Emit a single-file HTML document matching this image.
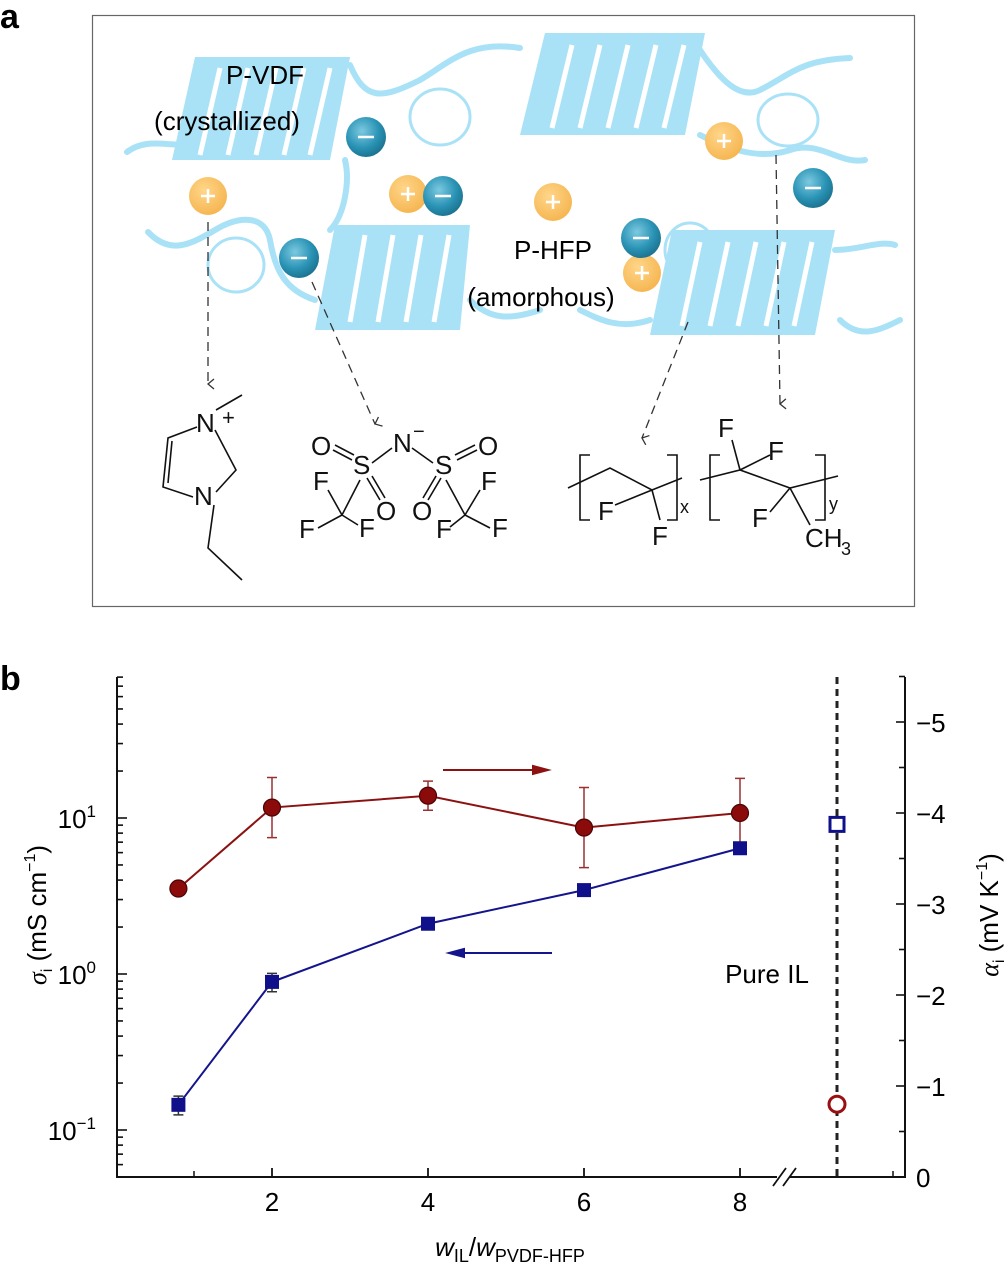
<!DOCTYPE html>
<html><head><meta charset="utf-8"><style>
body{margin:0;background:#fff;}
svg{display:block;font-family:"Liberation Sans",Arial,sans-serif;}
</style></head><body>
<svg width="1005" height="1262" viewBox="0 0 1005 1262">
<defs>
<radialGradient id="gNeg" cx="0.4" cy="0.35" r="0.7"><stop offset="0" stop-color="#7cc9e0"/><stop offset="0.6" stop-color="#2a93b5"/><stop offset="1" stop-color="#1a6f8c"/></radialGradient>
<radialGradient id="gPos" cx="0.4" cy="0.35" r="0.7"><stop offset="0" stop-color="#ffd68a"/><stop offset="1" stop-color="#f5b44e"/></radialGradient>
<marker id="arrOpen" markerWidth="12" markerHeight="12" refX="6" refY="10" orient="auto-start-reverse" markerUnits="userSpaceOnUse"><path d="M1,4 L6,10 L11,4" fill="none" stroke="#333" stroke-width="1.3"/></marker>
</defs>

<text x="0" y="28" font-size="34" font-weight="bold">a</text>
<g>
<rect x="92.5" y="15.5" width="822" height="591" fill="none" stroke="#666" stroke-width="1.2"/>
<g fill="none" stroke="#a9e2f7" stroke-width="6" stroke-linecap="round">
<path d="M127,152 C150,135 175,150 190,142"/>
<path d="M350,65 C365,100 380,100 420,80 C450,62 470,40 520,48"/>
<path d="M345,160 C350,180 345,215 330,230"/>
<path d="M148,232 C170,255 190,245 215,230 C240,215 265,215 270,240 C275,270 285,290 315,300"/>
<path d="M470,300 C490,320 510,320 540,310"/>
<path d="M700,50 C720,80 740,100 760,90 C790,75 800,60 850,58"/>
<path d="M700,135 C730,150 760,160 790,150 C820,140 840,165 865,160"/>
<path d="M650,320 C620,330 600,320 580,310"/>
<path d="M835,250 C860,250 880,240 895,245"/>
<path d="M840,320 C860,340 880,330 900,320"/>
</g>
<g fill="none" stroke="#a9e2f7" stroke-width="3">
<ellipse cx="440" cy="117" rx="30" ry="28"/>
<ellipse cx="236" cy="265" rx="28" ry="27"/>
<ellipse cx="690" cy="250" rx="25" ry="27"/>
<ellipse cx="788" cy="120" rx="30" ry="26"/>
</g>
<g>
<g><polygon points="195,57 350,57 330,160 172,160" fill="#a9e2f7"/>
<g stroke="#fff" stroke-width="5"><line x1="220" y1="68" x2="200" y2="155"/><line x1="248" y1="68" x2="228" y2="155"/><line x1="276" y1="68" x2="256" y2="155"/><line x1="304" y1="68" x2="284" y2="155"/><line x1="330" y1="68" x2="310" y2="155"/></g></g>
<g><polygon points="545,33 705,33 685,135 520,135" fill="#a9e2f7"/>
<g stroke="#fff" stroke-width="5"><line x1="572" y1="45" x2="552" y2="128"/><line x1="600" y1="45" x2="580" y2="128"/><line x1="628" y1="45" x2="608" y2="128"/><line x1="656" y1="45" x2="636" y2="128"/><line x1="684" y1="45" x2="664" y2="128"/></g></g>
<g><polygon points="335,225 470,225 460,330 315,330" fill="#a9e2f7"/>
<g stroke="#fff" stroke-width="5"><line x1="365" y1="235" x2="350" y2="322"/><line x1="393" y1="235" x2="378" y2="322"/><line x1="421" y1="235" x2="406" y2="322"/><line x1="449" y1="235" x2="434" y2="322"/></g></g>
<g><polygon points="672,230 835,230 815,335 650,335" fill="#a9e2f7"/>
<g stroke="#fff" stroke-width="5"><line x1="700" y1="242" x2="682" y2="326"/><line x1="728" y1="242" x2="710" y2="326"/><line x1="756" y1="242" x2="738" y2="326"/><line x1="784" y1="242" x2="766" y2="326"/><line x1="812" y1="242" x2="794" y2="326"/></g></g>
</g>
<text x="265" y="84" font-size="26" text-anchor="middle">P-VDF</text>
<text x="227" y="130" font-size="26" text-anchor="middle">(crystallized)</text>
<text x="553" y="259" font-size="26" text-anchor="middle">P-HFP</text>
<text x="541" y="306" font-size="26" text-anchor="middle">(amorphous)</text>
<g>
<g><circle cx="366" cy="137" r="20" fill="url(#gNeg)"/><line x1="358" y1="137" x2="374" y2="137" stroke="#fff" stroke-width="2.5"/></g>
<g><circle cx="208" cy="196" r="19" fill="url(#gPos)"/><path d="M201,196h14M208,189v14" stroke="#fff" stroke-width="2.5"/></g>
<g><circle cx="408" cy="194" r="19" fill="url(#gPos)"/><path d="M401,194h14M408,187v14" stroke="#fff" stroke-width="2.5"/></g>
<g><circle cx="443" cy="196" r="20" fill="url(#gNeg)"/><line x1="435" y1="196" x2="451" y2="196" stroke="#fff" stroke-width="2.5"/></g>
<g><circle cx="553" cy="202" r="19" fill="url(#gPos)"/><path d="M546,202h14M553,195v14" stroke="#fff" stroke-width="2.5"/></g>
<g><circle cx="299" cy="258" r="20" fill="url(#gNeg)"/><line x1="291" y1="258" x2="307" y2="258" stroke="#fff" stroke-width="2.5"/></g>
<g><circle cx="642" cy="273" r="19" fill="url(#gPos)"/><path d="M635,273h14M642,266v14" stroke="#fff" stroke-width="2.5"/></g>
<g><circle cx="641" cy="238" r="20" fill="url(#gNeg)"/><line x1="633" y1="238" x2="649" y2="238" stroke="#fff" stroke-width="2.5"/></g>
<g><circle cx="724" cy="141" r="19" fill="url(#gPos)"/><path d="M717,141h14M724,134v14" stroke="#fff" stroke-width="2.5"/></g>
<g><circle cx="813" cy="188" r="20" fill="url(#gNeg)"/><line x1="805" y1="188" x2="821" y2="188" stroke="#fff" stroke-width="2.5"/></g>
</g>
<g stroke="#333" stroke-width="1.3" stroke-dasharray="9,6" fill="none">
<line x1="208" y1="222" x2="208" y2="384" marker-end="url(#arrOpen)"/>
<line x1="312" y1="282" x2="375" y2="424" marker-end="url(#arrOpen)"/>
<line x1="688" y1="322" x2="642" y2="438" marker-end="url(#arrOpen)"/>
<line x1="776" y1="155" x2="780" y2="404" marker-end="url(#arrOpen)"/>
</g>
<g stroke="#111" stroke-width="1.6" fill="none">
<path d="M197,427 L168,438 L163,487 L193,497 M172,441 L168,483 M215,430 L236,470 L216,492 M214,505 L208,548 L242,580 M216,410 L242,395"/>
<text x="196" y="432" font-size="26" stroke="none" fill="#111">N</text><text x="222" y="425" font-size="22" stroke="none" fill="#111">+</text>
<text x="194" y="505" font-size="26" stroke="none" fill="#111">N</text>
</g>
<g font-size="26" fill="#111">
<text x="393" y="452">N</text><text x="413" y="438" font-size="20">−</text>
<text x="311" y="455">O</text><text x="353" y="474">S</text><text x="376" y="520">O</text>
<text x="435" y="474">S</text><text x="478" y="455">O</text><text x="412" y="520">O</text>
<text x="313" y="490">F</text><text x="299" y="538">F</text><text x="359" y="537">F</text>
<text x="481" y="490">F</text><text x="436" y="538">F</text><text x="492" y="537">F</text>
<path d="M333,450 L352,460 M335,445 L354,455 M372,463 L392,448 M412,448 L433,463 M455,455 L475,445 M457,460 L477,450 M367,478 L380,500 M372,476 L385,498 M441,478 L428,500 M436,476 L423,498 M360,480 L342,515 M342,515 L328,490 M342,515 L318,528 M342,515 L358,525 M446,480 L465,515 M465,515 L480,490 M465,515 L490,528 M465,515 L450,527" stroke="#111" stroke-width="1.6" fill="none"/>
</g>
<g font-size="26" fill="#111">
<path d="M568,488 L610,468 L652,490 L682,478 M590,455 L580,455 L580,520 L590,520 M667,455 L677,455 L677,520 L667,520 M652,490 L615,505 M652,490 L660,520 M700,480 L740,470 L790,488 L838,476 M720,455 L710,455 L710,520 L720,520 M815,455 L825,455 L825,520 L815,520 M740,470 L732,440 M740,470 L770,455 M790,488 L770,512 M790,488 L810,525" stroke="#111" stroke-width="1.6" fill="none"/>
<text x="598" y="520">F</text><text x="652" y="545">F</text><text x="680" y="513" font-size="18">x</text>
<text x="718" y="437">F</text><text x="768" y="460">F</text><text x="752" y="527">F</text>
<text x="805" y="547">CH</text><text x="841" y="555" font-size="18">3</text><text x="829" y="510" font-size="18">y</text>
</g>
</g>

<text x="0" y="690" font-size="34" font-weight="bold">b</text>
<g id="chart"></g>
</svg>
<script>
const xCats = [0.8, 2, 4, 6, 8];
const sigmaVals = [0.145, 0.89, 2.1, 3.45, 6.4];
const sigmaErr = [0.02, 0.12, 0.1, 0.1, 0.2];
const alphaVals = [-3.17, -4.06, -4.19, -3.84, -4.0];
const alphaErr = [0.0, 0.33, 0.16, 0.44, 0.38];
const pureSigma = 9.1;
const pureAlpha = -0.8;
const xTicks = [2, 4, 6, 8];
const leftTicks = [-1, 0, 1];
const rightTicks = [0, -1, -2, -3, -4, -5];

const NS = 'http://www.w3.org/2000/svg';
const g = document.getElementById('chart');
const L = 117, R = 905, B = 1177, T = 677, pureX = 837;
const xs = v => 272 + (v - 2) * 78;
const yl = v => 974 - Math.log10(v) * 156;
const yr = v => B + v * 91;
function el(tag, attrs, parent) {
  const e = document.createElementNS(NS, tag);
  for (const k in attrs) e.setAttribute(k, attrs[k]);
  (parent || g).appendChild(e);
  return e;
}
let a = el('path', {d: `M${L},${T} L${L},${B} L${R},${B} L${R},${T}`, fill: 'none', stroke: '#111', 'stroke-width': 2});


let bw = el('rect', {x: 777, y: 1174, width: 12, height: 6, fill: '#fff'});


let br = el('path', {d: 'M773,1186 L786,1168 M783,1186 L796,1168', stroke: '#111', 'stroke-width': 1.8, fill: 'none'});


xTicks.forEach(v => {
  const t = el('line', {x1: xs(v), x2: xs(v), y1: B, y2: B - 9, stroke: '#111', 'stroke-width': 1.8});
  
  
  const lb = el('text', {x: xs(v), y: B + 34, 'font-size': 26, 'text-anchor': 'middle'});
  lb.textContent = v;
  
  
});
[1, pureX].forEach((v, i) => {
  const xx = i === 0 ? xs(v) : 893;
  const t = el('line', {x1: xx, x2: xx, y1: B, y2: B - 6, stroke: '#111', 'stroke-width': 1.5});
  
  
});
for (let d = -2; d <= 1; d++) {
  for (let m = 1; m <= 9; m++) {
    const v = m * Math.pow(10, d);
    const y = yl(v);
    if (y < T || y > B) continue;
    const t = el('line', {x1: L, x2: L + (m === 1 ? 10 : 6), y1: y, y2: y, stroke: '#111', 'stroke-width': 1.6});
    
    
  }
}
leftTicks.forEach(p => {
  const lb = el('text', {x: 96, y: yl(Math.pow(10, p)) + 10, 'font-size': 26, 'text-anchor': 'end'});
  lb.innerHTML = '10<tspan dy="-11" font-size="17">' + (p < 0 ? '−' + (-p) : p) + '</tspan>';
  
  
});
for (let v = 0; v >= -5.5; v -= 0.5) {
  const major = Math.abs(v % 1) < 1e-9;
  const t = el('line', {x1: R, x2: R - (major ? 9 : 6), y1: yr(v), y2: yr(v), stroke: '#111', 'stroke-width': 1.6});
  
  
}
rightTicks.forEach(v => {
  const lb = el('text', {x: 916, y: yr(v) + 10, 'font-size': 26});
  lb.textContent = v === 0 ? '0' : '−' + (-v);
  
  
});
let lt = el('text', {transform: 'translate(46,915) rotate(-90)', 'font-size': 26, 'text-anchor': 'middle'});
lt.innerHTML = '<tspan font-style="italic" font-family="Liberation Serif">σ</tspan><tspan font-size="16" dy="6">i</tspan><tspan dy="-6"> (mS cm</tspan><tspan font-size="16" dy="-11">−1</tspan><tspan dy="11">)</tspan>';


let rt = el('text', {transform: 'translate(998,915) rotate(-90)', 'font-size': 26, 'text-anchor': 'middle'});
rt.innerHTML = '<tspan font-style="italic" font-family="Liberation Serif">α</tspan><tspan font-size="16" dy="6">i</tspan><tspan dy="-6"> (mV K</tspan><tspan font-size="16" dy="-11">−1</tspan><tspan dy="11">)</tspan>';


let xt = el('text', {x: 510, y: 1256, 'font-size': 26, 'text-anchor': 'middle'});
xt.innerHTML = '<tspan font-style="italic">w</tspan><tspan font-size="18" dy="6">IL</tspan><tspan dy="-6">/</tspan><tspan font-style="italic">w</tspan><tspan font-size="18" dy="6">PVDF-HFP</tspan>';


let dl = el('line', {x1: pureX, x2: pureX, y1: T, y2: B, stroke: '#222', 'stroke-width': 3, 'stroke-dasharray': '7,5'});


let pl = el('text', {x: 767, y: 983, 'font-size': 26, 'text-anchor': 'middle'});
pl.textContent = 'Pure IL';


const RED = '#8c1212', BLUE = '#14148c';
let redLine = el('polyline', {points: xCats.map((x, i) => xs(x) + ',' + yr(alphaVals[i])).join(' '), fill: 'none', stroke: RED, 'stroke-width': 2});


let blueLine = el('polyline', {points: xCats.map((x, i) => xs(x) + ',' + yl(sigmaVals[i])).join(' '), fill: 'none', stroke: BLUE, 'stroke-width': 2});


xCats.forEach((x, i) => {
  if (alphaErr[i] > 0) {
    const y1 = yr(alphaVals[i] - alphaErr[i]), y2 = yr(alphaVals[i] + alphaErr[i]);
    const e = el('path', {d: `M${xs(x)},${y1} V${y2} M${xs(x)-5},${y1} h10 M${xs(x)-5},${y2} h10`, stroke: '#9a3030', 'stroke-width': 1.5, fill: 'none'});
    
    
  }
  const y1 = yl(sigmaVals[i] - sigmaErr[i]), y2 = yl(sigmaVals[i] + sigmaErr[i]);
  const e2 = el('path', {d: `M${xs(x)},${y1} V${y2} M${xs(x)-5},${y1} h10 M${xs(x)-5},${y2} h10`, stroke: '#333', 'stroke-width': 1.5, fill: 'none'});
  
  
});
xCats.forEach((x, i) => {
  const c = el('circle', {cx: xs(x), cy: yr(alphaVals[i]), r: 8.5, fill: '#8b0a0a', stroke: '#4a0505', 'stroke-width': 1.2});
  
  
  const s = el('rect', {x: xs(x) - 7, y: yl(sigmaVals[i]) - 7, width: 14, height: 14, fill: '#10108a'});
  
  
});
let pa = el('circle', {cx: pureX, cy: yr(pureAlpha), r: 8, fill: '#fff', stroke: '#9a1010', 'stroke-width': 3});


let ps = el('rect', {x: pureX - 7, y: yl(pureSigma) - 7, width: 14, height: 14, fill: '#fff', stroke: '#10108a', 'stroke-width': 3});


let ra = el('path', {d: 'M443,770 H535 M533,766 L548,770 L533,774 Z', stroke: RED, fill: RED, 'stroke-width': 2});


let la = el('path', {d: 'M552,953 H462 M464,949 L449,953 L464,957 Z', stroke: BLUE, fill: BLUE, 'stroke-width': 2});


</script>
</body></html>
